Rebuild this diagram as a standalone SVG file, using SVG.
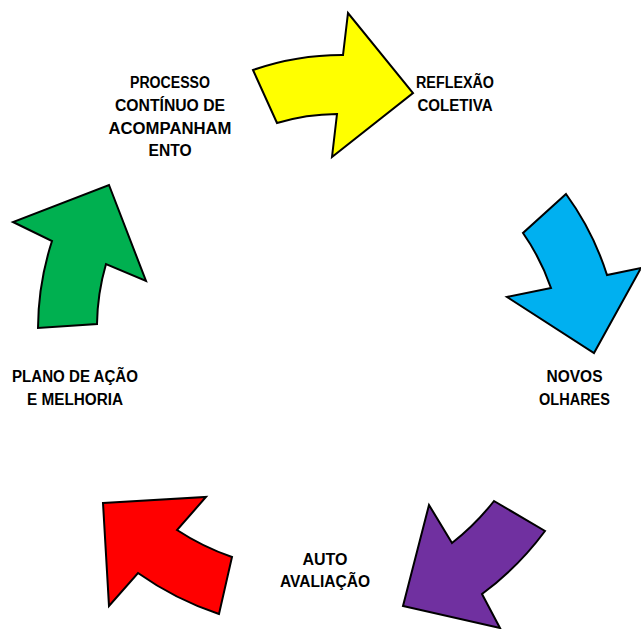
<svg xmlns="http://www.w3.org/2000/svg" width="641" height="629" viewBox="0 0 641 629">
<style>
.arrow{stroke:#000;stroke-width:2;stroke-linejoin:miter}
.lbl{font-family:"Liberation Sans",Arial,sans-serif;font-weight:bold;font-size:16px;fill:#000;text-anchor:middle}
</style>
<rect width="641" height="629" fill="#fff"/>
<g id="connectors">
<g id="arrow-yellow"><path class="arrow" fill="#FFFF00" d="M253,70 A270,270 0 0 1 343,55 L348,13 L413,93 L332,157 L337,114 A215,215 0 0 0 277,123 Z"/></g>
<g id="arrow-blue"><path class="arrow" fill="#00B0F0" d="M566,194 L523,233 A225,225 0 0 1 551,288 L507,297 L594,353 L641,268 L607,275 A282,282 0 0 0 566,194 Z"/></g>
<g id="arrow-purple"><path class="arrow" fill="#7030A0" d="M494,501 L545,531 A300,300 0 0 1 482,594 L500,628 L403,606 L429,505 L452,543 A245,245 0 0 0 494,501 Z"/></g>
<g id="arrow-red"><path class="arrow" fill="#FF0000" d="M103,503 L206,497 L177,530 A247,247 0 0 0 232,557 L219,614 A305,305 0 0 1 138,573 L109,606 Z"/></g>
<g id="arrow-green"><path class="arrow" fill="#00B050" d="M109,185 L146,281 L106,264 A228,228 0 0 0 97,324 L38,328 A287,287 0 0 1 52,241 L13,222 Z"/></g>
</g>
<g id="node-processo">
<text class="lbl" x="170" y="88" textLength="80" lengthAdjust="spacingAndGlyphs">PROCESSO</text>
<text class="lbl" x="170" y="111" textLength="110" lengthAdjust="spacingAndGlyphs">CONTÍNUO DE</text>
<text class="lbl" x="170" y="134" textLength="123" lengthAdjust="spacingAndGlyphs">ACOMPANHAM</text>
<text class="lbl" x="170" y="156" textLength="43" lengthAdjust="spacingAndGlyphs">ENTO</text>
</g>
<g id="node-reflexao">
<text class="lbl" x="455" y="88" textLength="78" lengthAdjust="spacingAndGlyphs">REFLEXÃO</text>
<text class="lbl" x="455" y="111" textLength="75" lengthAdjust="spacingAndGlyphs">COLETIVA</text>
</g>
<g id="node-novos">
<text class="lbl" x="574.5" y="382" textLength="56" lengthAdjust="spacingAndGlyphs">NOVOS</text>
<text class="lbl" x="574.5" y="405" textLength="71" lengthAdjust="spacingAndGlyphs">OLHARES</text>
</g>
<g id="node-auto">
<text class="lbl" x="325" y="565" textLength="45" lengthAdjust="spacingAndGlyphs">AUTO</text>
<text class="lbl" x="325" y="587" textLength="90" lengthAdjust="spacingAndGlyphs">AVALIAÇÃO</text>
</g>
<g id="node-plano">
<text class="lbl" x="75" y="382" textLength="126" lengthAdjust="spacingAndGlyphs">PLANO DE AÇÃO</text>
<text class="lbl" x="75" y="405" textLength="96" lengthAdjust="spacingAndGlyphs">E MELHORIA</text>
</g>
</svg>
